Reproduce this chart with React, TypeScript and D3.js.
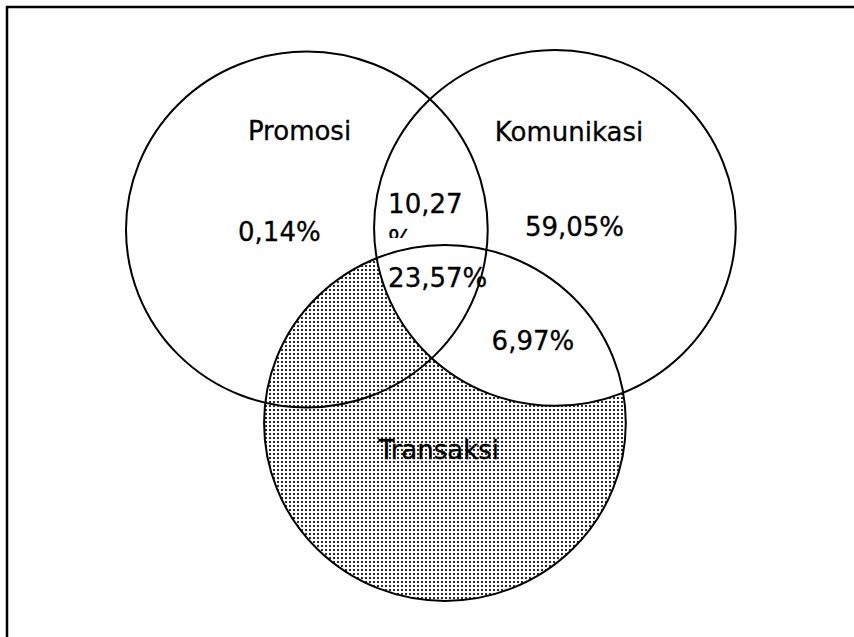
import { useEffect, useRef } from 'react'
import * as d3 from 'd3'

// sets and their region shares (as printed in the figure)
const setNames = ['Promosi', 'Komunikasi', 'Transaksi']
const regionNames = ['Promosi', 'Promosi∩Komunikasi', 'Komunikasi', 'Semua', 'Komunikasi∩Transaksi']
const regionValues = ['0,14%', '10,27%', '59,05%', '23,57%', '6,97%']

// layout of the diagram, in 0..1 units of the diagram box
const setCx = [0.296, 0.702, 0.522]
const setCy = [0.324, 0.321, 0.675]
const setRx = 0.296
const setRy = 0.323
const nameX = [0.284, 0.725, 0.512]
const nameY = [0.1615, 0.1633, 0.74]
const regionX = [0.251, 0.429, 0.734, 0.429, 0.666]
const regionY = [0.345, 0.294, 0.336, 0.428, 0.543]
const regionAnchor = ['middle', 'start', 'middle', 'start', 'middle']

export default function App() {
  const ref = useRef<SVGSVGElement>(null)

  useEffect(() => {
    const W = 854
    const H = 637
    const svg = d3.select(ref.current)
    svg.selectAll('*').remove()
    svg.attr('width', W).attr('height', H)

    const x = d3.scaleLinear().domain([0, 1]).range([126, 737])
    const y = d3.scaleLinear().domain([0, 1]).range([51, 602])
    const kx = x(1) - x(0)
    const ky = y(1) - y(0)

    const defs = svg.append('defs')
    const pat = defs.append('pattern')
      .attr('id', 'dots')
      .attr('patternUnits', 'userSpaceOnUse')
      .attr('width', 4)
      .attr('height', 4)
    pat.append('rect').attr('width', 4).attr('height', 4).attr('fill', '#fff')
    pat.append('rect').attr('x', 1).attr('y', 1).attr('width', 2).attr('height', 2).attr('fill', '#2a2a2a')

    // clip for the overflowing text box of the 10,27% region
    defs.append('clipPath').attr('id', 'box')
      .append('rect')
      .attr('x', x(regionX[1]) - 4)
      .attr('y', y(regionY[1]) - 30)
      .attr('width', 90)
      .attr('height', 55)

    // frame (top and left edges only)
    svg.append('path')
      .attr('d', `M7,${H} V7 H${W}`)
      .attr('fill', 'none')
      .attr('stroke', '#000')
      .attr('stroke-width', 2.5)

    // fills: Promosi, then dotted Transaksi, then Komunikasi on top
    const order = [0, 2, 1]
    const fills = ['#fff', '#fff', 'url(#dots)']
    svg.selectAll('.fill')
      .data(order)
      .join('ellipse')
      .attr('class', 'fill')
      .attr('cx', i => x(setCx[i]))
      .attr('cy', i => y(setCy[i]))
      .attr('rx', setRx * kx)
      .attr('ry', setRy * ky)
      .attr('fill', i => fills[i])

    // outlines
    svg.selectAll('.outline')
      .data(setNames)
      .join('ellipse')
      .attr('class', 'outline')
      .attr('cx', (_, i) => x(setCx[i]))
      .attr('cy', (_, i) => y(setCy[i]))
      .attr('rx', setRx * kx)
      .attr('ry', setRy * ky)
      .attr('fill', 'none')
      .attr('stroke', '#000')
      .attr('stroke-width', 2)

    const font = '"DejaVu Sans", Verdana, sans-serif'

    // set names
    svg.selectAll('.name')
      .data(setNames)
      .join('text')
      .attr('class', 'name')
      .attr('x', (_, i) => x(nameX[i]))
      .attr('y', (_, i) => y(nameY[i]))
      .attr('text-anchor', 'middle')
      .style('font-family', font)
      .style('font-size', '26px')
      .style('fill', '#000')
      .style('stroke', '#000')
      .style('stroke-width', 0.3)
      .text(d => d)

    // region values
    regionValues.forEach((v, i) => {
      const t = svg.append('text')
        .attr('x', x(regionX[i]))
        .attr('y', y(regionY[i]))
        .attr('text-anchor', regionAnchor[i])
        .attr('data-region', regionNames[i])
        .style('font-family', font)
        .style('font-size', '26px')
        .style('fill', '#000')
        .style('stroke', '#000')
        .style('stroke-width', 0.3)
      if (i === 1) {
        // narrow text box: wraps and gets cut off
        const parts = [v.slice(0, -1), v.slice(-1)]
        t.attr('clip-path', 'url(#box)')
        t.selectAll('tspan')
          .data(parts)
          .join('tspan')
          .attr('x', x(regionX[i]))
          .attr('dy', (_, j) => (j === 0 ? 0 : 36))
          .text(d => d)
      } else {
        t.text(v)
      }
    })
  }, [])

  return <svg ref={ref} style={{ position: 'absolute', left: 0, top: 0, background: '#fff' }} />
}
